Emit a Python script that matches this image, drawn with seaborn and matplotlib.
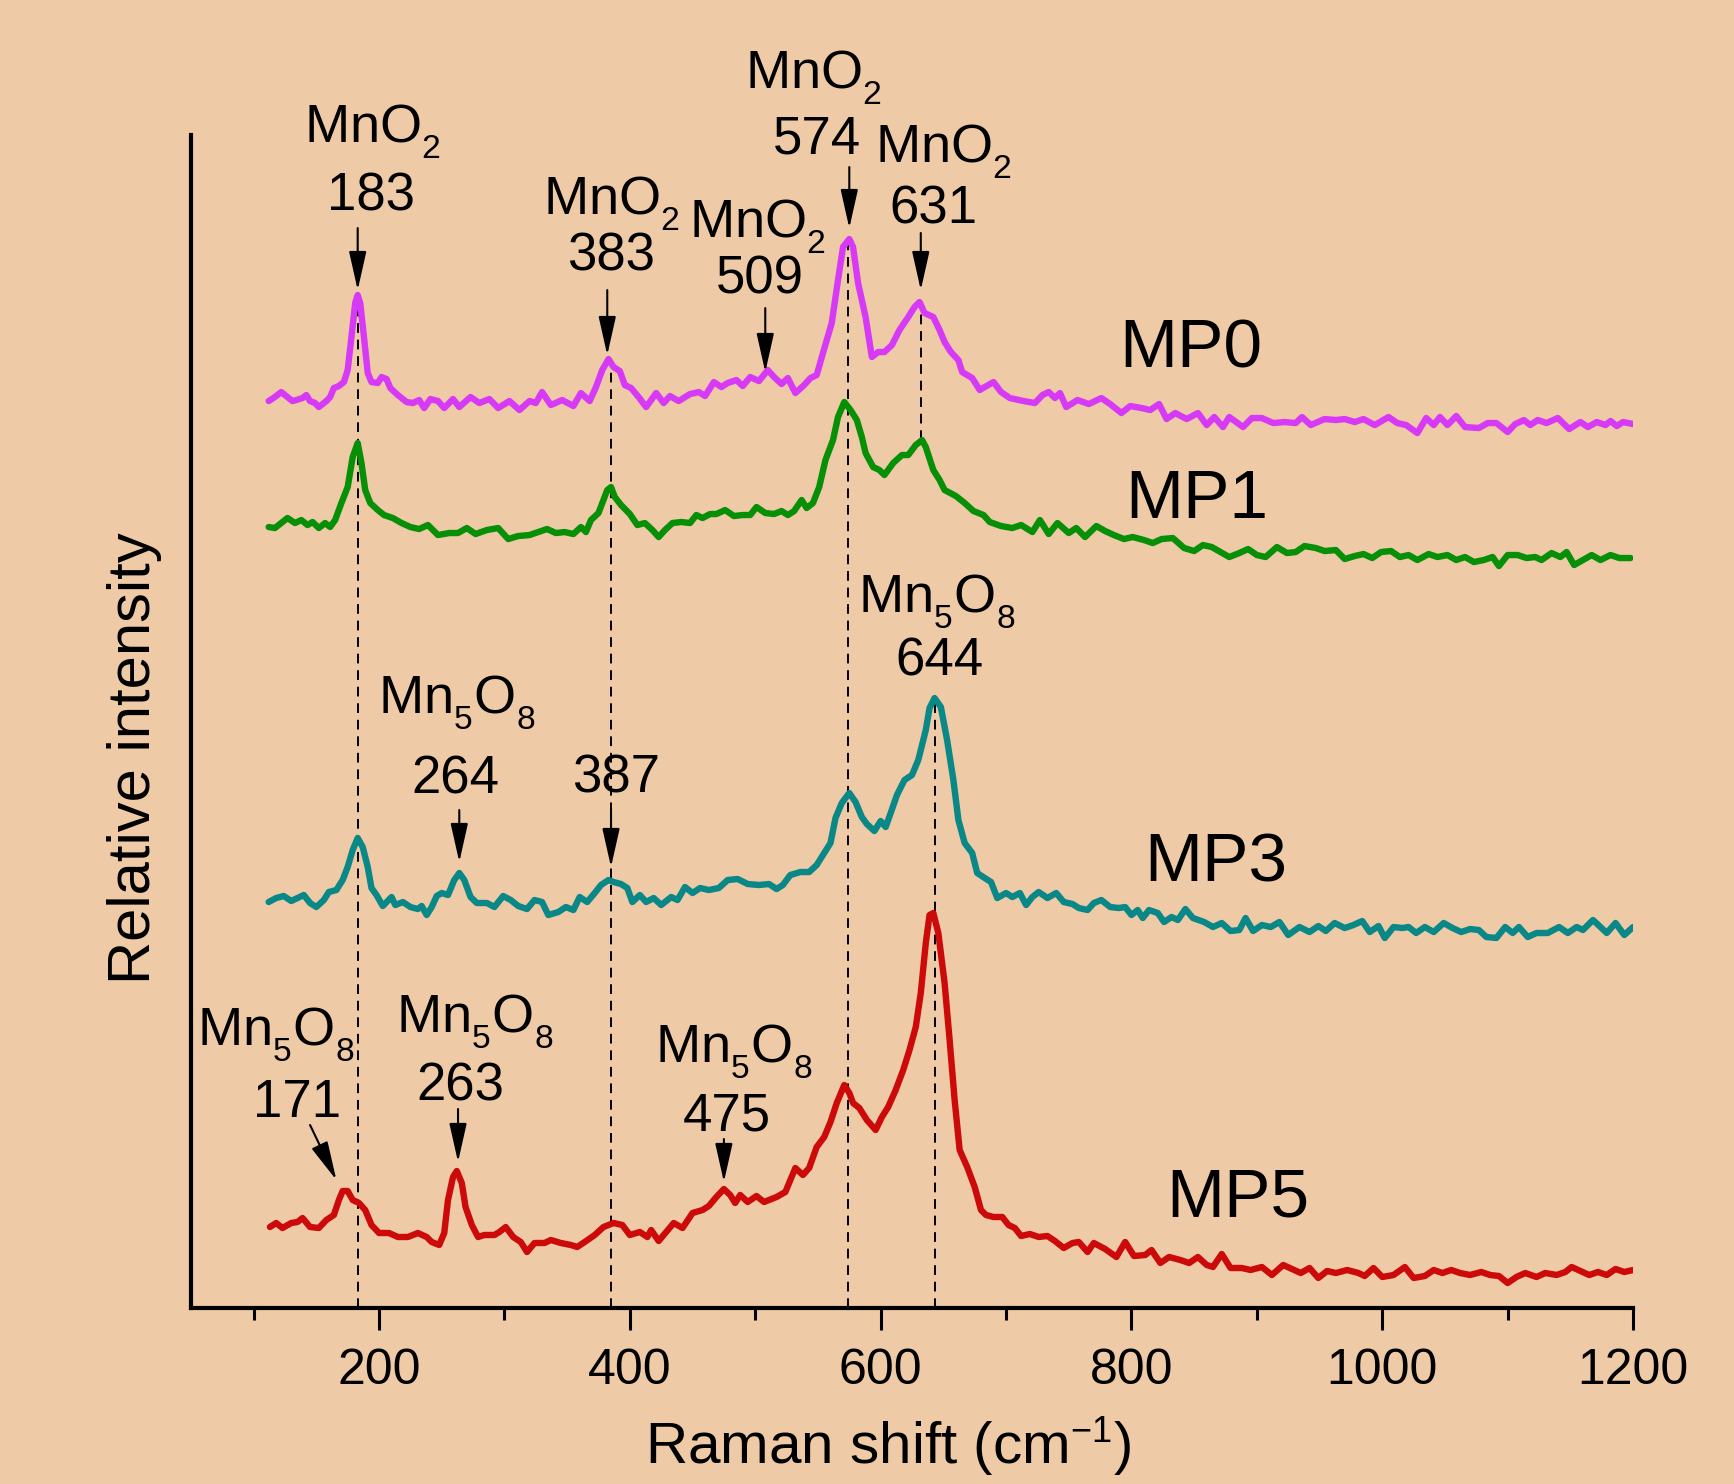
import matplotlib
matplotlib.use("Agg")
import matplotlib.pyplot as plt
import seaborn as sns
import pandas as pd
import matplotlib._mathtext as mathtext_internal

sns.set_theme(style="ticks")
plt.rcParams['font.family'] = ['Liberation Sans', 'DejaVu Sans']
plt.rcParams['mathtext.fontset'] = 'custom'
plt.rcParams['mathtext.rm'] = 'Liberation Sans'
plt.rcParams['mathtext.it'] = 'Liberation Sans:italic'
plt.rcParams['mathtext.bf'] = 'Liberation Sans:bold'
# smaller, lower subscripts like the original figure
mathtext_internal.SHRINK_FACTOR = 0.62
mathtext_internal.FontConstantsBase.sub1 = 0.6
mathtext_internal.FontConstantsBase.sub2 = 0.8

bg = '#eecaa6'

# spectra (Raman shift in cm-1, stacked intensity in arbitrary units)
mp0_x = [112,117,122,127,131,134,139,142,145,149,152,158,161,164,168,172,175,178,181,183,
         185,188,191,194,199,202,206,209,215,222,227,232,236,241,247,252,259,264,273,280,
         288,295,304,312,320,325,330,337,346,355,361,368,373,378,383,387,392,396,401,407,
         413,421,427,432,439,448,455,460,467,473,478,485,490,496,503,510,515,521,526,532,
         539,544,549,554,561,566,570,575,578,582,588,593,598,603,609,615,622,627,631,635,
         642,647,651,656,662,665,673,679,683,690,696,703,714,723,729,734,739,743,748,757,
         766,776,783,792,799,808,815,822,828,835,844,853,860,866,873,878,889,896,904,913,
         922,931,936,943,954,963,970,978,985,994,1005,1012,1019,1028,1035,1041,1046,1052,1059,1066,
         1077,1084,1091,1100,1106,1113,1118,1124,1131,1140,1149,1158,1164,1171,1178,1182,1187,1192,1200]
mp0_y = [907,911,916,911,907,908,910,913,907,905,901,907,911,920,922,926,938,971,1005,1013,
         1005,971,935,926,925,931,929,920,913,906,905,908,900,909,907,900,909,901,911,905,
         909,900,907,898,907,905,916,903,908,902,915,907,921,938,949,941,937,923,920,911,
         901,915,905,912,907,914,916,912,926,921,925,928,922,931,927,938,931,924,930,915,
         923,930,933,955,985,1028,1061,1069,1061,1025,991,951,956,956,963,978,991,1001,1006,995,
         991,978,966,956,948,936,930,918,921,926,916,910,907,905,913,916,910,915,901,908,
         904,910,904,895,902,900,898,904,889,895,889,895,883,891,881,891,881,890,890,885,
         886,885,891,883,889,888,889,886,889,883,891,885,883,875,890,883,891,883,892,881,
         880,885,885,876,884,888,883,888,885,890,879,886,881,886,883,887,882,886,884]

mp1_x = [112,117,122,127,133,138,143,147,152,157,161,165,170,175,179,183,186,189,193,199,
         204,211,218,225,232,239,247,256,263,270,277,286,295,303,311,320,327,334,341,348,
         355,361,365,369,375,379,382,385,388,393,400,406,412,418,423,428,434,441,448,453,
         458,464,469,476,483,490,496,501,508,515,521,526,531,537,541,546,551,556,562,566,
         571,576,581,585,588,594,599,603,610,617,622,628,633,636,642,647,651,660,667,674,
         682,687,696,705,712,721,727,734,741,750,756,763,772,779,786,794,801,810,817,824,
         833,842,850,857,864,871,878,886,893,900,907,916,924,931,938,947,954,963,970,978,
         985,992,999,1007,1014,1021,1028,1037,1044,1052,1059,1066,1073,1081,1088,1093,1100,1108,1115,1122,
         1127,1135,1142,1147,1153,1160,1167,1174,1182,1189,1198]
mp1_y = [781,780,785,790,785,788,783,786,780,785,781,788,805,821,851,865,845,818,805,798,
         793,790,785,781,779,783,773,775,775,780,774,778,780,769,772,773,776,779,775,776,
         774,781,776,788,795,808,818,821,811,803,794,783,785,778,771,778,785,786,785,793,
         790,794,794,798,792,793,793,801,795,794,797,793,797,808,800,805,821,848,868,891,
         906,898,888,871,855,841,838,833,845,853,853,863,868,861,838,828,818,812,805,797,
         793,786,782,780,783,776,788,774,785,775,780,771,782,777,773,769,771,768,765,769,
         770,760,757,763,761,756,751,755,759,753,751,761,755,756,762,760,757,758,749,752,
         754,750,756,757,751,753,748,754,751,753,748,751,746,748,751,742,753,753,750,751,
         748,755,751,756,743,748,753,748,753,750,750]

mp3_x = [112,118,124,130,135,140,145,150,156,160,166,171,175,179,183,187,191,194,198,203,
         210,213,219,225,231,234,238,242,246,250,255,260,264,268,273,278,286,292,299,305,
         311,318,324,330,335,343,349,355,360,366,372,377,383,387,393,398,402,408,413,419,
         425,433,438,444,450,456,463,471,478,486,494,503,511,517,522,528,536,543,549,555,
         560,564,569,575,580,585,589,595,600,604,608,613,619,625,630,636,639,643,648,653,
         658,662,667,673,677,683,688,693,700,705,711,716,721,726,733,740,746,753,758,765,
         770,776,783,790,795,800,805,809,814,821,826,832,837,843,849,858,865,872,879,886,
         891,897,904,911,918,925,934,942,949,955,962,970,977,984,990,997,1002,1009,1016,1021,
         1027,1034,1041,1049,1056,1063,1070,1077,1083,1091,1098,1104,1109,1116,1123,1132,1141,1148,1155,1160,
         1168,1174,1179,1186,1193,1200]
mp3_y = [406,410,412,407,410,413,405,401,408,416,418,428,441,458,470,461,441,420,413,402,
         411,403,406,401,399,402,393,401,412,415,413,428,435,428,411,405,405,401,412,408,
         402,399,408,406,393,396,401,398,411,406,415,423,428,426,424,420,406,413,406,410,
         403,411,408,421,415,420,418,420,428,429,424,423,424,419,423,433,436,436,443,455,
         465,490,505,515,506,491,484,477,487,481,495,513,528,533,548,578,600,610,601,568,
         528,488,465,455,435,430,426,410,415,411,415,403,411,416,410,415,406,404,400,398,
         405,408,401,400,401,393,398,390,398,395,386,391,388,399,390,386,381,385,377,378,
         390,377,383,381,386,373,381,376,382,377,385,380,383,387,376,382,370,381,380,381,
         375,381,376,385,380,376,379,378,371,370,381,375,381,371,375,375,381,375,381,378,
         388,381,375,385,373,381]

mp5_x = [113,118,123,130,135,139,145,152,158,164,168,171,175,179,184,189,194,200,208,215,
         223,231,238,242,248,252,255,259,262,266,269,274,279,284,292,296,301,307,313,318,
         324,332,337,345,353,358,364,372,379,387,394,400,408,414,417,423,429,435,442,450,
         458,463,469,475,480,484,488,494,501,507,517,524,528,532,538,543,549,555,560,565,
         571,575,578,583,589,596,601,606,612,618,623,628,632,636,639,642,646,651,655,659,
         663,669,675,680,684,690,697,702,707,712,719,726,733,739,746,753,758,765,770,779,
         788,795,802,811,816,823,830,839,846,853,860,865,872,879,888,895,904,912,921,928,
         935,942,949,956,963,972,981,986,993,1000,1009,1018,1025,1034,1041,1048,1055,1062,1070,1079,
         1086,1093,1100,1107,1114,1123,1130,1139,1146,1151,1158,1165,1172,1179,1186,1193,1200]
mp5_y = [81,85,80,85,86,90,81,80,88,93,108,117,117,108,105,98,83,75,75,71,
         71,75,71,66,63,75,108,131,137,125,101,83,71,73,73,76,81,71,66,56,
         65,65,68,65,63,61,66,73,81,85,83,73,76,71,78,67,76,85,80,95,
         98,102,111,119,113,105,113,106,112,106,111,116,128,140,133,140,161,171,186,205,
         223,215,205,200,188,178,191,201,218,238,258,281,315,365,393,395,375,325,268,208,
         158,141,121,98,93,91,91,83,80,72,74,71,72,67,60,65,66,56,65,59,
         51,66,52,53,58,45,51,48,45,51,43,41,54,40,40,38,41,33,43,39,
         35,40,30,37,35,38,35,32,40,31,33,41,30,32,38,35,38,35,33,36,
         33,32,25,31,35,31,35,33,36,41,37,33,36,33,39,36,38]

samples = ['MP0', 'MP1', 'MP3', 'MP5']
colors = {'MP0': '#d63af7', 'MP1': '#078f07', 'MP3': '#0a8787', 'MP5': '#cc0a0a'}

# dashed guide lines: position, lower end, upper end
guide_x = [183, 385, 574, 632, 643]
guide_lo = [0, 0, 0, 868, 0]
guide_hi = [1013, 949, 1069, 1006, 610]

# peak labels: formula, formula pos, number, number pos, arrow tail, arrow head
peak_labels = [
    ('MnO$_2$', (195, 1166), '183', (194, 1098), (183, 1080), (183, 1018)),
    ('MnO$_2$', (385, 1094), '383', (385, 1038), (382, 1018), (382, 953)),
    ('MnO$_2$', (502, 1071), '509', (504, 1015), (508, 1000), (508, 936)),
    ('MnO$_2$', (546, 1220), '574', (549, 1155), (575, 1141), (575, 1080)),
    ('MnO$_2$', (650, 1146), '631', (642, 1085), (632, 1075), (632, 1018)),
    ('Mn$_5$O$_8$', (645, 696), '644', (647, 633), None, None),
    ('Mn$_5$O$_8$', (262, 595), '264', (261, 515), (264, 498), (264, 446)),
    (None, None, '387', (389, 516), (385, 499), (385, 441)),
    ('Mn$_5$O$_8$', (118, 263), '171', (135, 191), (145, 183), (166, 128)),
    ('Mn$_5$O$_8$', (276, 276), '263', (265, 208), (263, 199), (263, 146)),
    ('Mn$_5$O$_8$', (483, 246), '475', (477, 178), (475, 169), (475, 126)),
]
sample_labels = {'MP0': (847, 941), 'MP1': (852, 790), 'MP3': (867, 427), 'MP5': (885, 92)}

frames = []
for name, xs, ys in zip(samples, [mp0_x, mp1_x, mp3_x, mp5_x], [mp0_y, mp1_y, mp3_y, mp5_y]):
    frames.append(pd.DataFrame({'shift': xs, 'intensity': ys, 'sample': name}))
df = pd.concat(frames, ignore_index=True)

fig = plt.figure(figsize=(17.34, 14.84), dpi=100, facecolor=bg)
ax = fig.add_axes([0.1101, 0.1186, 0.8317, 0.7904])
ax.set_facecolor(bg)

ax.vlines(guide_x, guide_lo, guide_hi, colors='black', linestyles=(0, (5, 3.5)), lw=1.4, zorder=1)

sns.lineplot(data=df, x='shift', y='intensity', hue='sample', hue_order=samples,
             palette=colors, linewidth=4.6, estimator=None, sort=False, legend=False, ax=ax, zorder=2)

for formula, fpos, number, npos, tail, head in peak_labels:
    if formula:
        ax.text(fpos[0], fpos[1], formula, ha='center', va='baseline', fontsize=39, color='black')
    ax.text(npos[0], npos[1], number, ha='center', va='baseline', fontsize=38, color='black')
    if tail:
        ax.annotate('', xy=head, xytext=tail, annotation_clip=False,
                    arrowprops=dict(arrowstyle='-|>,head_length=24,head_width=5.4', mutation_scale=1,
                                    lw=1.5, color='black', shrinkA=0, shrinkB=0))

for name, (lx, ly) in sample_labels.items():
    ax.text(lx, ly, name, ha='center', va='baseline', fontsize=50, color='black')

ax.set_xlim(50, 1200)
ax.set_ylim(0, 1173)
ax.set_xticks(range(200, 1201, 200))
ax.set_xticks(range(100, 1200, 200), minor=True)
ax.set_yticks([])
ax.tick_params(axis='x', which='major', length=16, width=2.2, direction='out', labelsize=36, pad=13,
               color='black', labelcolor='black')
ax.tick_params(axis='x', which='minor', length=8.5, width=2.2, direction='out', color='black')
for s in ['top', 'right']:
    ax.spines[s].set_visible(False)
for s in ['left', 'bottom']:
    ax.spines[s].set_linewidth(3)
    ax.spines[s].set_color('black')

ax.set_xlabel('Raman shift (cm$^{-1}$)', fontsize=42, color='black')
ax.xaxis.set_label_coords(0.483, -0.0912)
ax.set_ylabel('Relative intensity', fontsize=43, color='black')
ax.yaxis.set_label_coords(-0.0201, 0.4685)

fig.savefig('out.png', dpi=100, facecolor=bg)
